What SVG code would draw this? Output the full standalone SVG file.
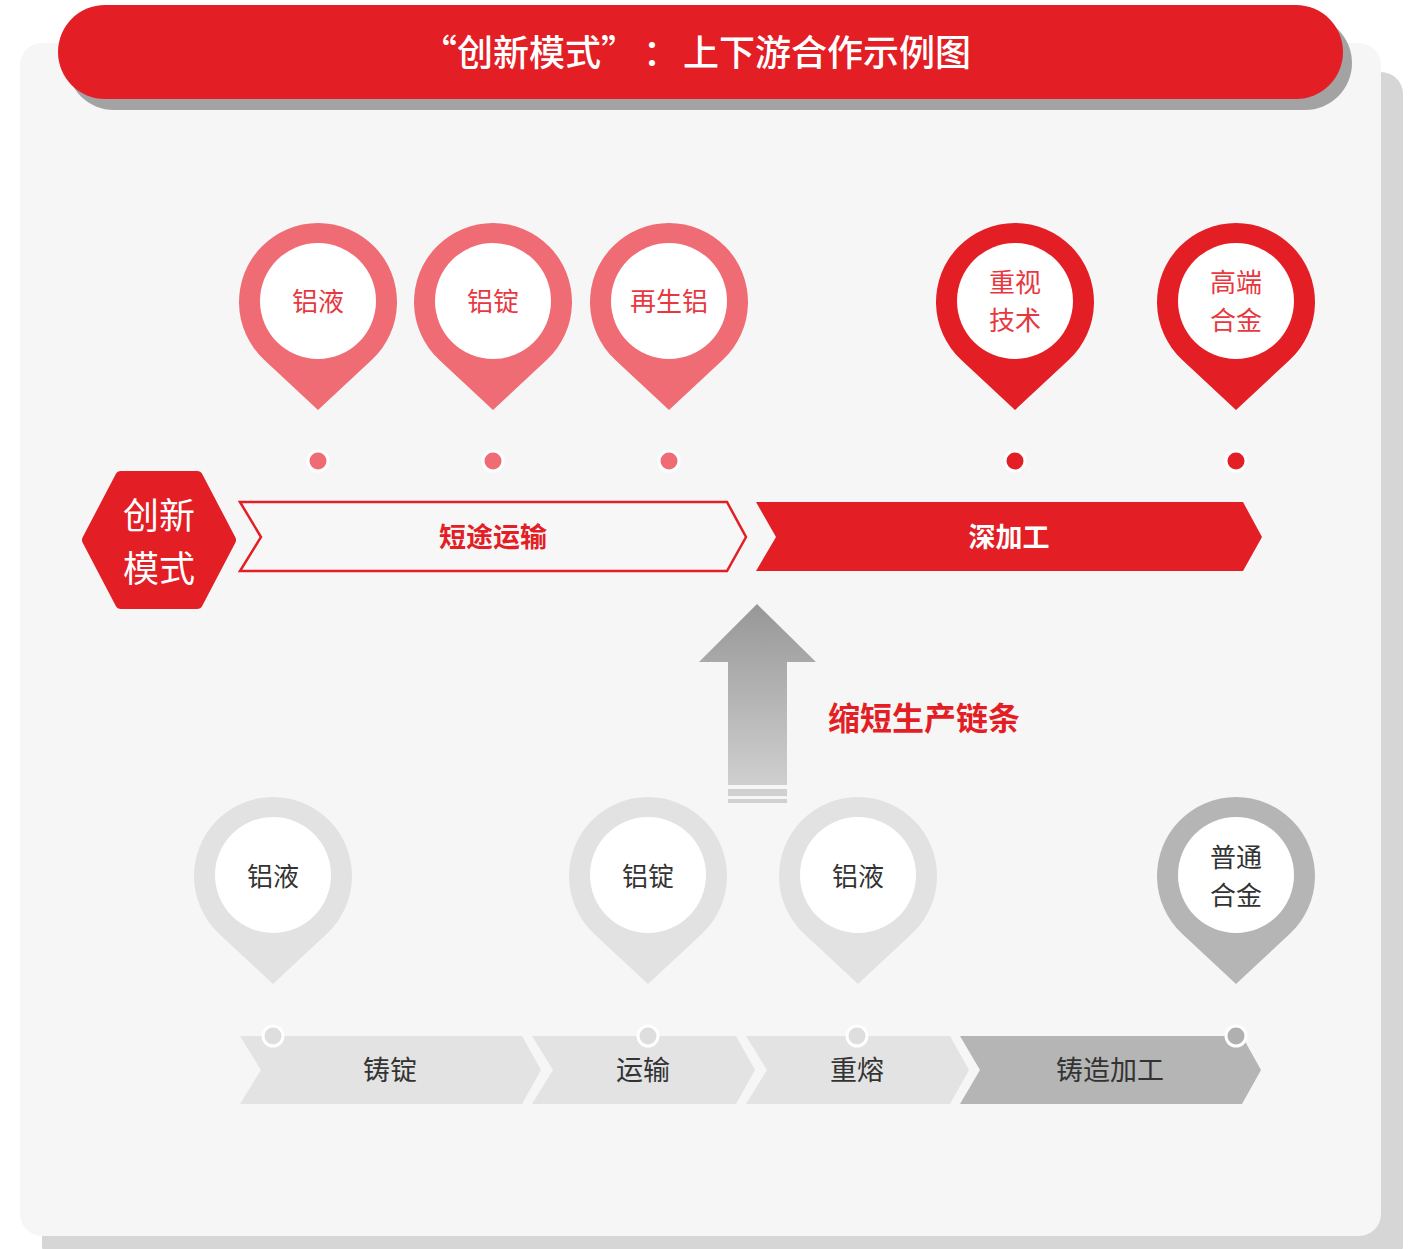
<svg xmlns="http://www.w3.org/2000/svg" width="1415" height="1249" viewBox="0 0 1415 1249">
<defs>
<style>
text{font-family:"Noto Sans CJK SC","Noto Sans",sans-serif;text-anchor:middle}
.start{text-anchor:start}
.pinTxtR{fill:#e7383f;font-size:26px}
.pinTxtG{fill:#333;font-size:26px}
.chevTxt{fill:#333;font-size:27px}
.pink{fill:#f06c74}
.red{fill:#e31e25}
.lg{fill:#e2e2e2}
.dg{fill:#b5b5b5}
.inner{fill:#fff}
.dot{stroke:#fff;stroke-width:3}
</style>
<linearGradient id="upg" x1="0" y1="0" x2="0" y2="1">
<stop offset="0" stop-color="#979797"/>
<stop offset="1" stop-color="#cfcfcf"/>
</linearGradient>
<path id="pin" d="M -53.9 57.8 A 79 79 0 1 1 53.9 57.8 L 0 108 Z"/>
</defs>

<g id="background">
<rect x="42" y="72" width="1361" height="1195" rx="22" fill="#d6d6d6"/>
<rect x="20" y="43" width="1361" height="1193" rx="22" fill="#f6f6f6"/>
</g>

<g id="title">
<rect x="67" y="16" width="1285" height="94" rx="47" fill="#a3a3a3"/>
<rect x="58" y="5" width="1285" height="94" rx="47" fill="#e31e25"/>
<text class="start" y="66" fill="#fff" font-size="36" font-weight="500"><tspan x="421">“创新模式”</tspan><tspan x="643">：</tspan><tspan x="683">上下游合作示例图</tspan></text>
</g>

<g id="hexagon">
<polygon points="88,540 121,477 197,477 230,540 197,603 121,603" fill="#e31e25" stroke="#e31e25" stroke-width="12" stroke-linejoin="round"/>
<text x="159" y="529" fill="#fff" font-size="36">创新</text>
<text x="159" y="582" fill="#fff" font-size="36">模式</text>
</g>

<g id="connectors">
<g id="short-transport">
<polygon points="240,502 261,537 240,571 727,571 746,537 727,502" fill="#f7f7f7" stroke="#e31e25" stroke-width="2.5"/>
<text x="493" y="547" fill="#e31e25" font-size="27" font-weight="bold">短途运输</text>
</g>
<g id="deep-processing">
<polygon points="756,502 776,537 756,571 1243,571 1262,537 1243,502" fill="#e31e25"/>
<text x="1009" y="547" fill="#fff" font-size="27" font-weight="bold">深加工</text>
</g>
<g id="up-arrow">
<polygon points="757,604 816,662 787,662 787,785 728,785 728,662 699,662" fill="url(#upg)"/>
<rect x="728" y="789" width="59" height="7" fill="#d0d0d0"/>
<rect x="728" y="799" width="59" height="4" fill="#d0d0d0"/>
</g>
<text x="924" y="730" fill="#e31e25" font-size="32" font-weight="bold">缩短生产链条</text>
<g id="bottom-chevrons">
<polygon points="240,1036 261,1070 240,1104 522,1104 541,1070 522,1036" fill="#e3e3e3"/>
<polygon points="532,1036 553,1070 532,1104 736,1104 755,1070 736,1036" fill="#e3e3e3"/>
<polygon points="746,1036 767,1070 746,1104 950,1104 969,1070 950,1036" fill="#e3e3e3"/>
<polygon points="960,1036 980,1070 960,1104 1242,1104 1261,1070 1242,1036" fill="#b5b5b5"/>
<text class="chevTxt" x="390" y="1080">铸锭</text>
<text class="chevTxt" x="643" y="1080">运输</text>
<text class="chevTxt" x="857" y="1080">重熔</text>
<text class="chevTxt" x="1110" y="1080">铸造加工</text>
<circle class="dot" cx="273" cy="1036" r="10" fill="#dedede"/>
<circle class="dot" cx="648" cy="1036" r="10" fill="#dedede"/>
<circle class="dot" cx="857" cy="1036" r="10" fill="#dedede"/>
<circle class="dot" cx="1236" cy="1036" r="10" fill="#b0b0b0"/>
</g>
<g id="top-dots">
<circle class="dot pink" cx="318" cy="461" r="10"/>
<circle class="dot pink" cx="493" cy="461" r="10"/>
<circle class="dot pink" cx="669" cy="461" r="10"/>
<circle class="dot red" cx="1015" cy="461" r="10"/>
<circle class="dot red" cx="1236" cy="461" r="10"/>
</g>
</g>

<g id="pin-top-1" transform="translate(318,302)">
<use href="#pin" class="pink"/><circle class="inner" cx="0" cy="-1" r="58"/>
<text class="pinTxtR" x="0" y="9">铝液</text>
</g>
<g id="pin-top-2" transform="translate(493,302)">
<use href="#pin" class="pink"/><circle class="inner" cx="0" cy="-1" r="58"/>
<text class="pinTxtR" x="0" y="9">铝锭</text>
</g>
<g id="pin-top-3" transform="translate(669,302)">
<use href="#pin" class="pink"/><circle class="inner" cx="0" cy="-1" r="58"/>
<text class="pinTxtR" x="0" y="9">再生铝</text>
</g>
<g id="pin-top-4" transform="translate(1015,302)">
<use href="#pin" class="red"/><circle class="inner" cx="0" cy="-1" r="58"/>
<text class="pinTxtR" x="0" y="-10">重视</text>
<text class="pinTxtR" x="0" y="28">技术</text>
</g>
<g id="pin-top-5" transform="translate(1236,302)">
<use href="#pin" class="red"/><circle class="inner" cx="0" cy="-1" r="58"/>
<text class="pinTxtR" x="0" y="-10">高端</text>
<text class="pinTxtR" x="0" y="28">合金</text>
</g>

<g id="pin-bottom-1" transform="translate(273,876)">
<use href="#pin" class="lg"/><circle class="inner" cx="0" cy="-1" r="58"/>
<text class="pinTxtG" x="0" y="10">铝液</text>
</g>
<g id="pin-bottom-2" transform="translate(648,876)">
<use href="#pin" class="lg"/><circle class="inner" cx="0" cy="-1" r="58"/>
<text class="pinTxtG" x="0" y="10">铝锭</text>
</g>
<g id="pin-bottom-3" transform="translate(858,876)">
<use href="#pin" class="lg"/><circle class="inner" cx="0" cy="-1" r="58"/>
<text class="pinTxtG" x="0" y="10">铝液</text>
</g>
<g id="pin-bottom-4" transform="translate(1236,876)">
<use href="#pin" class="dg"/><circle class="inner" cx="0" cy="-1" r="58"/>
<text class="pinTxtG" x="0" y="-9">普通</text>
<text class="pinTxtG" x="0" y="29">合金</text>
</g>
</svg>
